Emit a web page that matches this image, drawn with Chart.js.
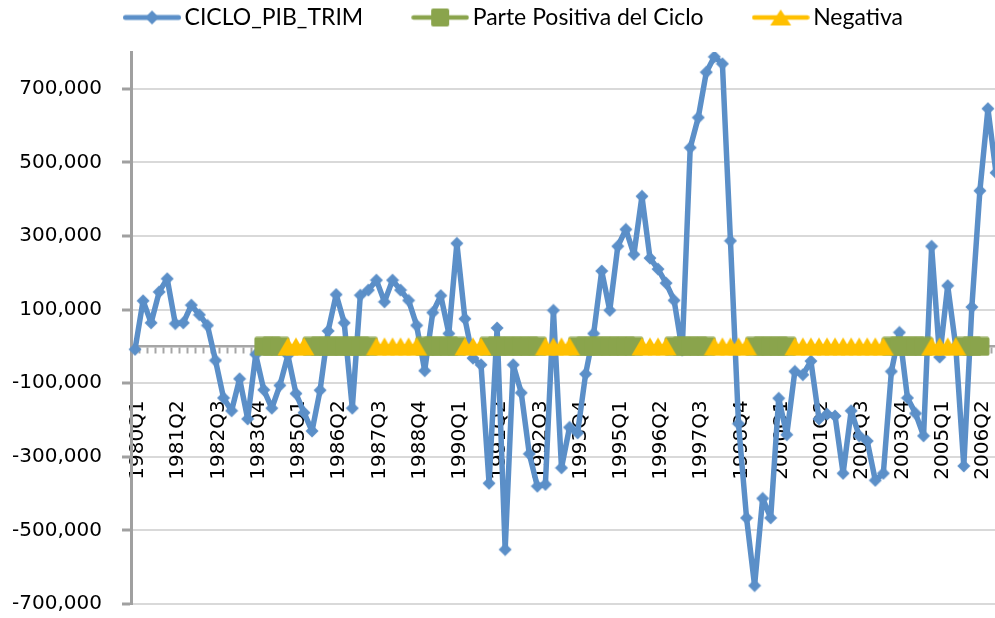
<!DOCTYPE html>
<html><head><meta charset="utf-8">
<script src="https://cdn.jsdelivr.net/npm/chart.js@4/dist/chart.umd.min.js"></script>
<style>html,body{margin:0;padding:0;overflow:hidden;background:#fff}#wrap{position:relative;width:1000px;height:618px}</style>
</head><body><div id="wrap"><canvas id="c"></canvas></div>
<script>
const N = null;
const quarters = [
 '1980Q1','1980Q2','1980Q3','1980Q4','1981Q1','1981Q2','1981Q3','1981Q4','1982Q1','1982Q2','1982Q3','1982Q4',
 '1983Q1','1983Q2','1983Q3','1983Q4','1984Q1','1984Q2','1984Q3','1984Q4','1985Q1','1985Q2','1985Q3','1985Q4',
 '1986Q1','1986Q2','1986Q3','1986Q4','1987Q1','1987Q2','1987Q3','1987Q4','1988Q1','1988Q2','1988Q3','1988Q4',
 '1989Q1','1989Q2','1989Q3','1989Q4','1990Q1','1990Q2','1990Q3','1990Q4','1991Q1','1991Q2','1991Q3','1991Q4',
 '1992Q1','1992Q2','1992Q3','1992Q4','1993Q1','1993Q2','1993Q3','1993Q4','1994Q1','1994Q2','1994Q3','1994Q4',
 '1995Q1','1995Q2','1995Q3','1995Q4','1996Q1','1996Q2','1996Q3','1996Q4','1997Q1','1997Q2','1997Q3','1997Q4',
 '1998Q1','1998Q2','1998Q3','1998Q4','1999Q1','1999Q2','1999Q3','1999Q4','2000Q1','2000Q2','2000Q3','2000Q4',
 '2001Q1','2001Q2','2001Q3','2001Q4','2002Q1','2002Q2','2002Q3','2002Q4','2003Q1','2003Q2','2003Q3','2003Q4',
 '2004Q1','2004Q2','2004Q3','2004Q4','2005Q1','2005Q2','2005Q3','2005Q4','2006Q1','2006Q2','2006Q3','2006Q4'
];
const cicloPib = [
 -8000,124000,64000,148000,184000,62000,64000,112000,86000,57000,-38000,-140000,
 -175000,-88000,-197000,-22000,-118000,-168000,-106000,-24000,-128000,-180000,-230000,-119000,
 42000,141000,64000,-168000,139000,153000,180000,121000,180000,153000,125000,57000,
 -66000,92000,138000,35000,280000,75000,-32000,-50000,-372000,50000,-552000,-50000,
 -126000,-292000,-380000,-375000,98000,-330000,-220000,-235000,-75000,35000,205000,98000,
 272000,318000,250000,408000,240000,210000,172000,125000,-10000,540000,622000,745000,
 787000,768000,287000,-210000,-466000,-650000,-413000,-466000,-141000,-240000,-68000,-77000,
 -40000,-197000,-184000,-189000,-345000,-175000,-243000,-257000,-364000,-345000,-68000,38000,
 -140000,-182000,-243000,272000,-29000,165000,0,-325000,107000,423000,646000,472000
];
const partePositiva = [
 N,N,N,N,N,N,N,N,N,N,N,N,
 N,N,N,N,0,0,0,N,N,N,0,0,
 0,0,0,0,0,0,N,N,N,N,N,N,
 0,0,0,0,0,N,N,N,0,0,0,0,
 0,0,0,N,N,N,N,0,0,0,0,0,
 0,0,0,N,N,N,N,0,0,0,0,0,
 N,N,N,N,N,0,0,0,0,0,N,N,
 N,N,N,N,N,N,N,N,N,N,0,0,
 0,0,0,N,N,N,N,0,0,0,N,N
];
const negativa = [
 N,N,N,N,N,N,N,N,N,N,N,N,
 N,N,N,N,N,N,N,0,0,0,N,N,
 N,N,N,N,N,N,0,0,0,0,0,0,
 N,N,N,N,N,0,0,0,N,N,N,N,
 N,N,N,0,0,0,0,N,N,N,N,N,
 N,N,N,0,0,0,0,N,N,N,N,N,
 0,0,0,0,0,N,N,N,N,N,0,0,
 0,0,0,0,0,0,0,0,0,0,N,N,
 N,N,N,0,0,0,0,N,N,N,N,N
];
const yTicks = [-700000,-500000,-300000,-100000,100000,300000,500000,700000];
const seriesNames = ['CICLO_PIB_TRIM','Parte Positiva del Ciclo','Negativa'];

const BLUE = '#5b8fc8', GREEN = '#8aa44c', YELLOW = '#ffc000';

function mk(w, h, draw) { const c = document.createElement('canvas'); c.width = w; c.height = h; draw(c.getContext('2d'), w, h); return c; }
function diamond(ctx, cx, cy, r, col) { ctx.fillStyle = col; ctx.beginPath(); ctx.moveTo(cx, cy - r); ctx.lineTo(cx + r, cy); ctx.lineTo(cx, cy + r); ctx.lineTo(cx - r, cy); ctx.closePath(); ctx.fill(); }
function square(ctx, cx, cy, s, col) { ctx.fillStyle = col; ctx.beginPath(); if (ctx.roundRect) ctx.roundRect(cx - s/2, cy - s/2, s, s, 2); else ctx.rect(cx - s/2, cy - s/2, s, s); ctx.fill(); }
function tri(ctx, cx, cy, w, h, col) { ctx.fillStyle = col; ctx.beginPath(); ctx.moveTo(cx, cy - h/2); ctx.lineTo(cx + w/2, cy + h/2); ctx.lineTo(cx - w/2, cy + h/2); ctx.closePath(); ctx.fill(); }

const diamondImg = mk(14, 14, (c) => diamond(c, 7, 7, 6.5, BLUE));
const squareImg = mk(20, 20, (c) => square(c, 10, 10, 19, GREEN));
const triImg = mk(22, 20, (c) => tri(c, 11, 10, 21, 18, YELLOW));

function legendImg(col, lw, marker) {
  return mk(58, 24, (c) => {
    c.strokeStyle = col; c.lineWidth = lw; c.lineCap = 'round';
    c.beginPath(); c.moveTo(2.5, 12); c.lineTo(55.5, 12); c.stroke();
    marker(c);
  });
}
const legendImgs = [
  legendImg(BLUE, 5, (c) => diamond(c, 29, 12, 7, BLUE)),
  legendImg(GREEN, 4.5, (c) => square(c, 29, 12, 18, GREEN)),
  legendImg(YELLOW, 4.5, (c) => tri(c, 29, 12, 21, 16, YELLOW))
];

const LEG_FONT = 23, LEG_PAD = 56, LEG_PW = 65 - LEG_FONT;
const legendPos = {
  id: 'legendPos',
  afterLayout(chart) {
    const lg = chart.legend; if (!lg) return;
    lg.left += 17; lg.right += 17;
    lg.top = 17.5 - LEG_FONT / 2 - LEG_PAD;
  }
};

new Chart(document.getElementById('c'), {
  type: 'line',
  data: {
    labels: quarters,
    datasets: [
      { label: seriesNames[0], data: cicloPib, borderColor: BLUE, backgroundColor: BLUE, borderWidth: 5.5,
        pointStyle: diamondImg, pointRadius: 5, borderJoinStyle: 'round', borderCapStyle: 'round', order: 2 },
      { label: seriesNames[1], data: partePositiva, borderColor: GREEN, backgroundColor: GREEN, borderWidth: 4.5,
        pointStyle: squareImg, pointRadius: 5, spanGaps: false, order: 1 },
      { label: seriesNames[2], data: negativa, borderColor: YELLOW, backgroundColor: YELLOW, borderWidth: 4.5,
        pointStyle: triImg, pointRadius: 5, spanGaps: false, order: 0 }
    ]
  },
  options: {
    responsive: true, maintainAspectRatio: false, animation: false, events: [],
    layout: { autoPadding: false, padding: { top: 12, bottom: 14, left: 0, right: 0 } },
    plugins: {
      tooltip: { enabled: false },
      legend: {
        position: 'top', align: 'center', maxHeight: 40,
        labels: {
          usePointStyle: true, pointStyleWidth: LEG_PW, padding: LEG_PAD, color: '#000',
          font: { family: 'Lato', size: LEG_FONT },
          generateLabels: (chart) => chart.data.datasets.map((ds, i) => ({
            text: ds.label, pointStyle: legendImgs[i], fillStyle: 'transparent', strokeStyle: 'transparent',
            lineWidth: 0, hidden: false, datasetIndex: i, fontColor: '#000'
          }))
        }
      }
    },
    scales: {
      x: {
        type: 'category', position: { y: 0 }, offset: true,
        grid: { display: true, drawOnChartArea: false, drawTicks: true, tickLength: 6, tickColor: '#a6a6a6', tickWidth: 2, offset: true },
        border: { display: true, color: '#a6a6a6', width: 2.5 },
        ticks: {
          autoSkip: false, minRotation: 90, maxRotation: 90, padding: 48, labelOffset: 3, color: '#000',
          font: { family: 'DejaVu Sans', size: 20 },
          callback: (v, i) => (i % 5 === 0 ? quarters[i] : '')
        },
        afterFit: (s) => { s.paddingLeft = 0; s.paddingRight = 0; s.paddingTop = 0; s.paddingBottom = 0; }
      },
      y: {
        type: 'linear', position: 'left', min: -700000, max: 800000,
        afterBuildTicks: (s) => { s.ticks = yTicks.map((v) => ({ value: v })); },
        afterFit: (s) => { s.width = 131; s.paddingTop = 0; s.paddingBottom = 0; },
        grid: { color: '#d9d9d9', lineWidth: 2, drawTicks: true, tickLength: 9, tickColor: '#a0a0a0', tickWidth: 3 },
        border: { display: true, color: '#a0a0a0', width: 3 },
        ticks: { padding: 20, color: '#000', font: { family: 'DejaVu Sans', size: 20 },
          callback: (v) => Number(v).toLocaleString('en-US') }
      }
    }
  },
  plugins: [legendPos]
});
</script></body></html>
